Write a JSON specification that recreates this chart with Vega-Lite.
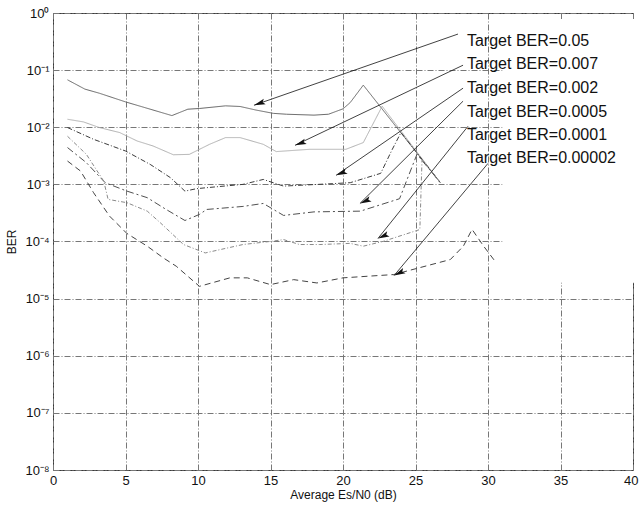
{
  "$schema": "https://vega.github.io/schema/vega-lite/v6.json",
  "width": 580,
  "height": 457,
  "autosize": {"type": "none"},
  "padding": {"left": 53, "top": 13, "right": 6, "bottom": 37},
  "background": "white",
  "config": {
    "view": {"stroke": "#3a3a3a", "strokeWidth": 1},
    "font": "Liberation Sans",
    "axis": {
      "domain": false,
      "ticks": false,
      "labelFont": "Liberation Sans",
      "labelFontSize": 13,
      "labelColor": "#111",
      "titleFont": "Liberation Sans",
      "titleFontSize": 12,
      "titleFontWeight": "normal",
      "titleColor": "#111",
      "gridColor": "#777",
      "gridWidth": 1,
      "gridDash": [6, 2, 1, 2],
      "gridOpacity": 1
    }
  },
  "datasets": {
    "mask": [{"x": 31, "x2": 41, "y": 0.000019, "y2": 0.785}],
    "curves": [
      {"s": "0.05", "x": 1.0, "y": 0.0676},
      {"s": "0.05", "x": 2.2, "y": 0.0465},
      {"s": "0.05", "x": 3.2, "y": 0.0394},
      {"s": "0.05", "x": 5.0, "y": 0.0278},
      {"s": "0.05", "x": 8.2, "y": 0.0160},
      {"s": "0.05", "x": 9.3, "y": 0.0207},
      {"s": "0.05", "x": 10.1, "y": 0.0213},
      {"s": "0.05", "x": 11.9, "y": 0.0237},
      {"s": "0.05", "x": 12.9, "y": 0.0231},
      {"s": "0.05", "x": 14.0, "y": 0.0200},
      {"s": "0.05", "x": 15.2, "y": 0.0175},
      {"s": "0.05", "x": 16.1, "y": 0.0169},
      {"s": "0.05", "x": 18.0, "y": 0.0163},
      {"s": "0.05", "x": 19.0, "y": 0.0169},
      {"s": "0.05", "x": 20.0, "y": 0.0210},
      {"s": "0.05", "x": 20.5, "y": 0.0271},
      {"s": "0.05", "x": 21.4, "y": 0.0546},
      {"s": "0.05", "x": 26.7, "y": 0.00108},
      {"s": "0.007", "x": 1.0, "y": 0.0138},
      {"s": "0.007", "x": 2.1, "y": 0.0124},
      {"s": "0.007", "x": 3.2, "y": 0.00988},
      {"s": "0.007", "x": 4.6, "y": 0.00807},
      {"s": "0.007", "x": 5.8, "y": 0.00575},
      {"s": "0.007", "x": 6.9, "y": 0.00470},
      {"s": "0.007", "x": 8.3, "y": 0.00330},
      {"s": "0.007", "x": 9.4, "y": 0.00335},
      {"s": "0.007", "x": 10.8, "y": 0.00503},
      {"s": "0.007", "x": 11.9, "y": 0.00659},
      {"s": "0.007", "x": 12.9, "y": 0.00659},
      {"s": "0.007", "x": 14.5, "y": 0.00503},
      {"s": "0.007", "x": 15.4, "y": 0.00375},
      {"s": "0.007", "x": 17.7, "y": 0.00411},
      {"s": "0.007", "x": 20.2, "y": 0.00411},
      {"s": "0.007", "x": 21.4, "y": 0.00539},
      {"s": "0.007", "x": 22.7, "y": 0.0233},
      {"s": "0.007", "x": 26.7, "y": 0.00108},
      {"s": "0.002", "x": 1.0, "y": 0.00988},
      {"s": "0.002", "x": 2.8, "y": 0.00615},
      {"s": "0.002", "x": 5.0, "y": 0.00384},
      {"s": "0.002", "x": 6.7, "y": 0.00224},
      {"s": "0.002", "x": 8.1, "y": 0.00131},
      {"s": "0.002", "x": 9.1, "y": 0.000762},
      {"s": "0.002", "x": 9.9, "y": 0.000841},
      {"s": "0.002", "x": 10.6, "y": 0.000875},
      {"s": "0.002", "x": 13.1, "y": 0.00100},
      {"s": "0.002", "x": 14.5, "y": 0.00122},
      {"s": "0.002", "x": 15.9, "y": 0.000933},
      {"s": "0.002", "x": 19.3, "y": 0.00103},
      {"s": "0.002", "x": 20.5, "y": 0.00107},
      {"s": "0.002", "x": 22.6, "y": 0.00156},
      {"s": "0.002", "x": 23.4, "y": 0.00411},
      {"s": "0.002", "x": 24.0, "y": 0.0081},
      {"s": "0.002", "x": 26.7, "y": 0.00108},
      {"s": "0.0005", "x": 1.0, "y": 0.00441},
      {"s": "0.0005", "x": 2.3, "y": 0.00240},
      {"s": "0.0005", "x": 3.6, "y": 0.00107},
      {"s": "0.0005", "x": 5.1, "y": 0.000762},
      {"s": "0.0005", "x": 6.5, "y": 0.000585},
      {"s": "0.0005", "x": 7.8, "y": 0.000364},
      {"s": "0.0005", "x": 9.1, "y": 0.000233},
      {"s": "0.0005", "x": 10.1, "y": 0.000298},
      {"s": "0.0005", "x": 10.6, "y": 0.000364},
      {"s": "0.0005", "x": 13.1, "y": 0.000411},
      {"s": "0.0005", "x": 14.5, "y": 0.000464},
      {"s": "0.0005", "x": 15.9, "y": 0.000286},
      {"s": "0.0005", "x": 18.0, "y": 0.000330},
      {"s": "0.0005", "x": 21.2, "y": 0.000340},
      {"s": "0.0005", "x": 23.9, "y": 0.000561},
      {"s": "0.0005", "x": 25.1, "y": 0.00336},
      {"s": "0.0005", "x": 26.7, "y": 0.00108},
      {"s": "0.0001", "x": 1.0, "y": 0.00695},
      {"s": "0.0001", "x": 2.3, "y": 0.00336},
      {"s": "0.0001", "x": 3.5, "y": 0.00114},
      {"s": "0.0001", "x": 3.8, "y": 0.000546},
      {"s": "0.0001", "x": 5.1, "y": 0.000478},
      {"s": "0.0001", "x": 6.5, "y": 0.000340},
      {"s": "0.0001", "x": 7.4, "y": 0.000213},
      {"s": "0.0001", "x": 9.0, "y": 0.0000885},
      {"s": "0.0001", "x": 10.5, "y": 0.0000631},
      {"s": "0.0001", "x": 13.1, "y": 0.0000885},
      {"s": "0.0001", "x": 15.1, "y": 0.000101},
      {"s": "0.0001", "x": 15.9, "y": 0.000108},
      {"s": "0.0001", "x": 17.0, "y": 0.0000885},
      {"s": "0.0001", "x": 18.4, "y": 0.0000885},
      {"s": "0.0001", "x": 20.5, "y": 0.0000927},
      {"s": "0.0001", "x": 21.4, "y": 0.0000828},
      {"s": "0.0001", "x": 22.8, "y": 0.000101},
      {"s": "0.0001", "x": 25.3, "y": 0.000162},
      {"s": "0.0001", "x": 25.45, "y": 0.00275},
      {"s": "0.0001", "x": 26.7, "y": 0.00108},
      {"s": "0.00002", "x": 1.0, "y": 0.00256},
      {"s": "0.00002", "x": 1.9, "y": 0.00171},
      {"s": "0.00002", "x": 2.8, "y": 0.000714},
      {"s": "0.00002", "x": 3.9, "y": 0.000278},
      {"s": "0.00002", "x": 5.1, "y": 0.000138},
      {"s": "0.00002", "x": 6.5, "y": 0.0000828},
      {"s": "0.00002", "x": 7.6, "y": 0.0000518},
      {"s": "0.00002", "x": 8.5, "y": 0.0000369},
      {"s": "0.00002", "x": 10.1, "y": 0.0000164},
      {"s": "0.00002", "x": 12.2, "y": 0.0000231},
      {"s": "0.00002", "x": 13.4, "y": 0.0000231},
      {"s": "0.00002", "x": 15.0, "y": 0.0000176},
      {"s": "0.00002", "x": 16.6, "y": 0.0000215},
      {"s": "0.00002", "x": 18.2, "y": 0.0000188},
      {"s": "0.00002", "x": 20.0, "y": 0.0000231},
      {"s": "0.00002", "x": 23.5, "y": 0.0000264},
      {"s": "0.00002", "x": 27.4, "y": 0.0000483},
      {"s": "0.00002", "x": 28.3, "y": 0.0000828},
      {"s": "0.00002", "x": 28.9, "y": 0.000163},
      {"s": "0.00002", "x": 29.7, "y": 0.0000828},
      {"s": "0.00002", "x": 30.5, "y": 0.0000446}
    ],
    "arrows": [
      {"t": "0.05", "x": 27.93, "y": 0.428, "x2": 13.86, "y2": 0.0243},
      {"t": "0.007", "x": 28.28, "y": 0.122, "x2": 16.69, "y2": 0.00483},
      {"t": "0.002", "x": 28.28, "y": 0.0483, "x2": 19.52, "y2": 0.00144},
      {"t": "0.0005", "x": 28.28, "y": 0.0286, "x2": 21.17, "y2": 0.000464},
      {"t": "0.0001", "x": 28.62, "y": 0.0104, "x2": 22.41, "y2": 0.000113},
      {"t": "0.00002", "x": 30.0, "y": 0.00233, "x2": 23.52, "y2": 0.0000253}
    ],
    "labels": [
      {"text": "Target BER=0.05", "x": 28.55, "y": 0.323},
      {"text": "Target BER=0.007", "x": 28.55, "y": 0.127},
      {"text": "Target BER=0.002", "x": 28.55, "y": 0.0483},
      {"text": "Target BER=0.0005", "x": 28.55, "y": 0.0183},
      {"text": "Target BER=0.0001", "x": 28.55, "y": 0.00724},
      {"text": "Target BER=0.00002", "x": 28.55, "y": 0.00286}
    ]
  },
  "layer": [
    {
      "data": {"name": "mask"},
      "mark": {"type": "rect", "fill": "white", "stroke": null},
      "encoding": {
        "x": {
          "field": "x", "type": "quantitative",
          "scale": {"domain": [0, 40], "nice": false, "zero": false},
          "axis": {
            "values": [0, 5, 10, 15, 20, 25, 30, 35, 40],
            "title": "Average Es/N0 (dB)",
            "labelPadding": 4,
            "titlePadding": 2,
            "labelFlush": false,
            "labelAlign": {"condition": {"test": "datum.value == 40", "value": "right"}, "value": "center"},
            "labelOffset": {"condition": {"test": "datum.value == 40", "value": 5}, "value": 0}
          }
        },
        "x2": {"field": "x2"},
        "y": {
          "field": "y", "type": "quantitative",
          "scale": {"type": "log", "domain": [1e-8, 1], "nice": false},
          "axis": {
            "values": [1e-8, 1e-7, 1e-6, 1e-5, 1e-4, 1e-3, 1e-2, 1e-1, 1],
            "title": "BER",
            "labelPadding": 4,
            "titlePadding": 6,
            "labelExpr": "'10' + (round(log(datum.value)/LN10) < 0 ? '⁻' : '') + ['⁰','¹','²','³','⁴','⁵','⁶','⁷','⁸','⁹'][abs(round(log(datum.value)/LN10))]"
          }
        },
        "y2": {"field": "y2"}
      }
    },
    {
      "data": {"name": "curves"},
      "mark": {"type": "line", "strokeWidth": 1},
      "encoding": {
        "x": {"field": "x", "type": "quantitative"},
        "y": {"field": "y", "type": "quantitative"},
        "detail": {"field": "s"},
        "color": {
          "field": "s", "type": "nominal", "legend": null,
          "scale": {
            "domain": ["0.05", "0.007", "0.002", "0.0005", "0.0001", "0.00002"],
            "range": ["#666666", "#b0b0b0", "#3c3c3c", "#505050", "#8a8a8a", "#444444"]
          }
        },
        "strokeDash": {
          "field": "s", "type": "nominal", "legend": null,
          "scale": {
            "domain": ["0.05", "0.007", "0.002", "0.0005", "0.0001", "0.00002"],
            "range": [[1, 0], [1, 0], [5, 2, 1, 2], [7, 3, 2, 3], [4, 2, 1, 2], [6, 4]]
          }
        }
      }
    },
    {
      "data": {"name": "arrows"},
      "mark": {"type": "rule", "color": "#111", "strokeWidth": 0.8},
      "encoding": {
        "x": {"field": "x", "type": "quantitative"},
        "y": {"field": "y", "type": "quantitative"},
        "x2": {"field": "x2"},
        "y2": {"field": "y2"}
      }
    },
    {
      "data": {"name": "arrows"},
      "mark": {"type": "point", "filled": true, "color": "#111", "opacity": 1, "size": 130, "shape": "M0,0L-0.5,2L0,1.6L0.5,2Z"},
      "encoding": {
        "x": {"field": "x2", "type": "quantitative"},
        "y": {"field": "y2", "type": "quantitative"},
        "angle": {
          "field": "t", "type": "nominal",
          "scale": {
            "domain": ["0.05", "0.007", "0.002", "0.0005", "0.0001", "0.00002"],
            "range": [250.8, 244.5, 235.6, 225.3, 218.8, 220]
          }
        }
      }
    },
    {
      "data": {"name": "labels"},
      "mark": {"type": "text", "align": "left", "baseline": "middle", "font": "Liberation Sans", "fontSize": 16, "color": "#111"},
      "encoding": {
        "x": {"field": "x", "type": "quantitative"},
        "y": {"field": "y", "type": "quantitative"},
        "text": {"field": "text"}
      }
    }
  ]
}
